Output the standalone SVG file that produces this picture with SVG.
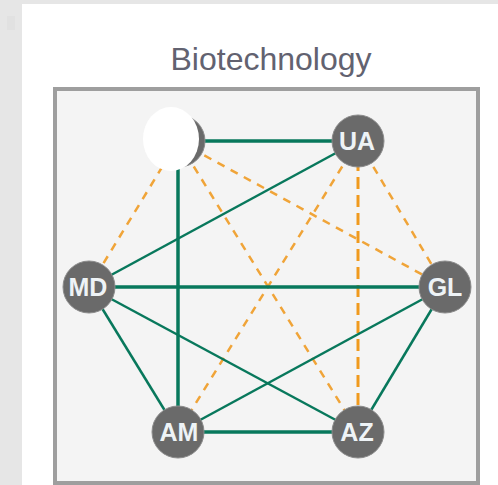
<svg xmlns="http://www.w3.org/2000/svg" width="498" height="485" viewBox="0 0 498 485">
<style>
.title{font-family:"Liberation Sans",Arial,sans-serif;font-size:32px;fill:#626270;text-anchor:middle}
.node circle{fill:#6a6a6a;stroke:#8c8c8c;stroke-width:1}
.node text{font-family:"Liberation Sans",Arial,sans-serif;font-size:25px;font-weight:bold;fill:#eef3f6;text-anchor:middle}
.g{stroke:#08785c;stroke-width:2.5;fill:none}
.gt{stroke:#08785c;stroke-width:3.5;fill:none}
.o{stroke:#f0a438;stroke-width:2.5;stroke-dasharray:8 7;fill:none}
.ot{stroke:#f09a1e;stroke-width:3;stroke-dasharray:12 6;fill:none}
</style>
<rect x="0" y="0" width="498" height="485" fill="#e6e6e6"/>
<rect x="7" y="16" width="8" height="14" fill="#e1e1e1"/>
<rect x="22" y="4" width="476" height="481" fill="#ffffff"/>
<text class="title" x="271" y="70">Biotechnology</text>
<rect x="55" y="89" width="423" height="394" fill="#f4f4f4" stroke="#9e9e9e" stroke-width="4"/>
<g id="connectors">
<line class="o" x1="178" y1="141" x2="89" y2="287"/>
<line class="o" x1="178" y1="141" x2="445" y2="287"/>
<line class="o" x1="178" y1="141" x2="358" y2="432"/>
<line class="o" x1="358" y1="141" x2="178" y2="432"/>
<line class="o" x1="358" y1="141" x2="445" y2="287"/>
<line class="ot" x1="358" y1="141" x2="358" y2="432"/>
<line class="gt" x1="178" y1="141" x2="358" y2="141"/>
<line class="gt" x1="178" y1="141" x2="178" y2="432"/>
<line class="g" x1="89" y1="287" x2="358" y2="141"/>
<line class="gt" x1="89" y1="287" x2="445" y2="287"/>
<line class="g" x1="89" y1="287" x2="178" y2="432"/>
<line class="g" x1="89" y1="287" x2="358" y2="432"/>
<line class="g" x1="445" y1="287" x2="178" y2="432"/>
<line class="g" x1="445" y1="287" x2="358" y2="432"/>
<line class="gt" x1="178" y1="432" x2="358" y2="432"/>
</g>
<g id="node-hidden" class="node">
<circle cx="179" cy="141" r="26"/>
<ellipse cx="171" cy="139" rx="28" ry="32" fill="#ffffff"/>
</g>
<g id="node-UA" class="node">
<circle cx="358" cy="141" r="26"/>
<text x="357" y="150">UA</text>
</g>
<g id="node-MD" class="node">
<circle cx="89" cy="287" r="26"/>
<text x="88" y="296">MD</text>
</g>
<g id="node-GL" class="node">
<circle cx="445" cy="287" r="26"/>
<text x="445" y="296">GL</text>
</g>
<g id="node-AM" class="node">
<circle cx="178" cy="432" r="26"/>
<text x="179" y="441">AM</text>
</g>
<g id="node-AZ" class="node">
<circle cx="358" cy="432" r="26"/>
<text x="357" y="441">AZ</text>
</g>
</svg>
